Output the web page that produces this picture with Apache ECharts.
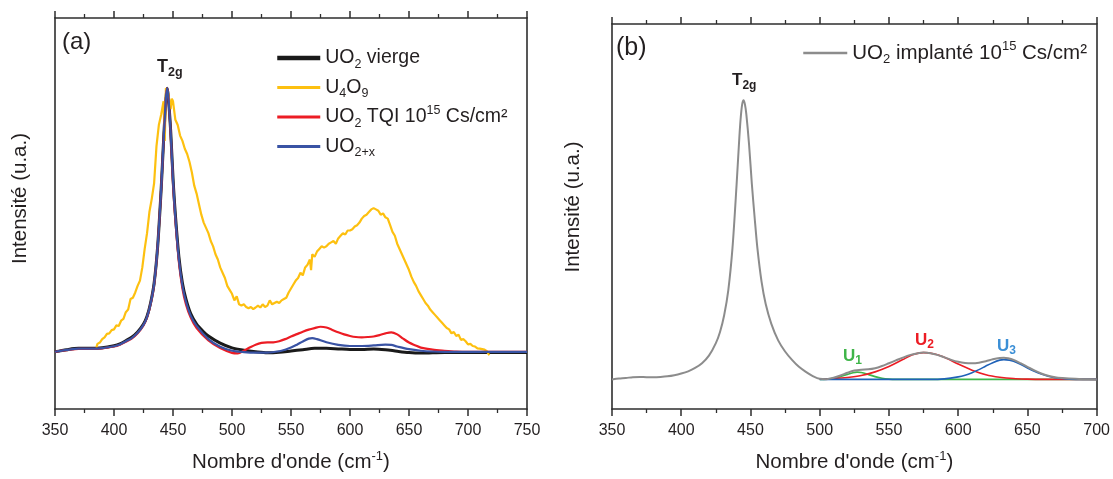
<!DOCTYPE html>
<html>
<head>
<meta charset="utf-8">
<script src="https://cdn.jsdelivr.net/npm/echarts@6/dist/echarts.min.js"></script>
<style>
html,body{margin:0;padding:0;background:#fff;}
#c{width:1113px;height:479px;}
</style>
</head>
<body>
<div id="c"></div>
<script>
// ---------------- DATA (panel a) ----------------
const blackX = [350,360,370,380,390,400,405,410,415,420,425,428,431,434,437,440,442,444,445,446,448,450,452,455,458,461,465,470,475,480,490,500,510,520,530,540,550,560,570,580,590,600,610,620,630,640,650,660,670,680,700,720,750];
const blackY = [0,0.008,0.013,0.013,0.015,0.023,0.03,0.042,0.055,0.075,0.105,0.135,0.185,0.26,0.4,0.62,0.8,0.96,1.0,0.97,0.84,0.66,0.52,0.36,0.26,0.2,0.145,0.105,0.08,0.06,0.033,0.015,0.006,0.0,-0.004,-0.002,0.003,0.008,0.013,0.013,0.011,0.009,0.009,0.011,0.008,0.002,-0.003,-0.005,-0.004,-0.003,-0.003,-0.003,-0.003];

const redX = [350,360,370,380,390,400,405,410,415,420,425,428,431,434,437,440,442,444,445,446,448,450,452,455,458,461,465,470,480,490,500,505,510,515,520,525,530,535,540,545,550,555,560,565,570,575,580,585,590,595,600,605,610,615,620,625,630,635,640,645,650,655,660,670,680,690,700,750];
const redY = [0,0.006,0.011,0.011,0.013,0.02,0.027,0.038,0.05,0.07,0.1,0.13,0.18,0.255,0.4,0.62,0.8,0.96,1.0,0.97,0.83,0.64,0.5,0.34,0.24,0.18,0.13,0.09,0.043,0.014,-0.004,-0.006,0.004,0.016,0.027,0.034,0.036,0.036,0.04,0.048,0.058,0.067,0.076,0.084,0.09,0.095,0.092,0.083,0.074,0.066,0.06,0.056,0.055,0.056,0.058,0.063,0.07,0.074,0.066,0.05,0.035,0.025,0.016,0.008,0.004,0.001,0,0];

const blueX = [350,360,370,380,390,400,405,410,415,420,425,428,431,434,437,440,442,444,445,446,448,450,452,455,458,461,465,470,480,490,500,510,520,530,540,545,550,555,560,565,568,572,580,590,600,610,620,630,635,640,650,660,670,680,750];
const blueY = [0,0.007,0.012,0.012,0.014,0.021,0.028,0.04,0.052,0.072,0.102,0.132,0.182,0.258,0.4,0.62,0.8,0.96,1.0,0.97,0.835,0.65,0.51,0.35,0.25,0.19,0.137,0.098,0.048,0.019,0.004,-0.001,-0.003,-0.003,0.002,0.008,0.016,0.027,0.039,0.05,0.052,0.048,0.036,0.026,0.022,0.022,0.024,0.027,0.026,0.02,0.01,0.004,0.001,0,0];

const yellowX = [385,386,388,390,392,394,396,398,400,402,404,406,408,410,412,414,416,418,420,422,424,426,428,430,432,434,436,438,440,442,443,444,446,448,449,450,452,454,456,458,460,462,464,466,468,470,472,474,476,478,480,482,484,486,488,490,492,494,496,498,500,502,504,506,508,510,512,514,516,518,520,522,524,526,528,530,532,534,536,538,540,542,544,546,548,550,552,554,556,558,560,562,564,566,567,568,570,572,574,576,578,580,582,584,586,588,590,592,594,596,598,600,602,604,606,608,610,612,614,616,618,620,622,624,626,628,630,632,634,636,638,640,642,644,646,648,650,652,654,656,658,660,662,664,666,668,670,672,674,676,678,680,682,684,686,688,690,692,694,696,698,700,702,704,706,708,710,712,714,716,718];
const yellowY = [0.016,0.03,0.035,0.048,0.055,0.068,0.07,0.082,0.085,0.1,0.098,0.118,0.125,0.15,0.16,0.2,0.205,0.225,0.25,0.27,0.32,0.39,0.45,0.53,0.58,0.64,0.78,0.86,0.9,0.95,0.8,1.0,0.98,0.92,0.96,0.95,0.88,0.86,0.82,0.8,0.77,0.75,0.72,0.68,0.63,0.6,0.56,0.52,0.49,0.47,0.45,0.42,0.4,0.37,0.35,0.32,0.3,0.28,0.25,0.235,0.22,0.195,0.21,0.18,0.175,0.18,0.17,0.165,0.17,0.162,0.168,0.175,0.168,0.18,0.17,0.175,0.195,0.18,0.185,0.19,0.185,0.195,0.2,0.205,0.225,0.24,0.255,0.27,0.28,0.3,0.29,0.32,0.33,0.35,0.31,0.37,0.36,0.38,0.39,0.4,0.395,0.4,0.41,0.415,0.42,0.41,0.43,0.44,0.45,0.445,0.46,0.46,0.465,0.475,0.48,0.49,0.505,0.515,0.52,0.53,0.54,0.545,0.54,0.535,0.52,0.525,0.51,0.505,0.48,0.455,0.44,0.41,0.39,0.37,0.35,0.33,0.31,0.285,0.265,0.25,0.23,0.215,0.2,0.185,0.175,0.16,0.15,0.14,0.13,0.12,0.11,0.1,0.09,0.085,0.07,0.075,0.06,0.065,0.045,0.048,0.04,0.028,0.03,0.022,0.02,0.013,0.012,0.01,0.008,0.002,-0.013];

// ---------------- DATA (panel b) ----------------
const grayX = [350,355,360,365,370,375,380,385,390,395,400,405,410,415,420,425,428,431,434,437,440,442,443,444,445,446,447,449,451,453,455,458,461,465,470,475,480,485,490,495,500,505,510,515,520,525,530,535,540,545,550,555,560,565,570,575,580,585,590,595,600,605,610,615,620,625,630,633,636,640,645,650,655,660,665,670,675,680,690,700];
const grayY = [0,0.003,0.005,0.008,0.009,0.008,0.008,0.009,0.011,0.015,0.021,0.029,0.041,0.058,0.085,0.13,0.17,0.23,0.32,0.47,0.7,0.87,0.94,0.985,1.0,0.985,0.95,0.84,0.7,0.58,0.47,0.35,0.27,0.2,0.14,0.1,0.07,0.045,0.027,0.012,0.002,0.001,0.006,0.014,0.024,0.032,0.035,0.036,0.04,0.048,0.058,0.068,0.078,0.087,0.093,0.096,0.094,0.088,0.079,0.07,0.063,0.059,0.058,0.06,0.065,0.072,0.077,0.078,0.076,0.07,0.058,0.045,0.032,0.021,0.013,0.008,0.005,0.003,0.001,0];

const u1X = [500,505,510,515,520,524,527,530,535,540,545,550,555,700];
const u1Y = [0,0.001,0.004,0.01,0.018,0.024,0.026,0.025,0.018,0.01,0.004,0.001,0,0];

const u2X = [500,510,520,530,540,550,560,567,575,583,590,600,610,620,630,640,650,660,700];
const u2Y = [0.001,0.003,0.007,0.014,0.027,0.046,0.071,0.088,0.096,0.091,0.079,0.055,0.033,0.017,0.008,0.003,0.001,0,0];

const u3X = [500,580,590,600,605,610,615,620,625,630,633,637,640,645,650,655,660,665,670,675,680,690,700];
const u3Y = [0,0,0.002,0.009,0.015,0.024,0.035,0.048,0.06,0.069,0.071,0.069,0.065,0.054,0.041,0.029,0.019,0.011,0.006,0.003,0.001,0,0];

// tick settings
const xTicksA = {min:350, max:750, interval:50};
const xTicksB = {min:350, max:700, interval:50};

// ---------------- building ----------------
const FONT = '"Liberation Sans", Arial, Helvetica, sans-serif';
const TXT = '#231f20';
const AX = '#2e2e2e';
const pairs = (xs, ys) => xs.map((x, i) => [x, ys[i]]);

const legendLabels = {
  'UO2 vierge': 'UO{sub|2} vierge',
  'U4O9': 'U{sub|4}O{sub|9}',
  'UO2 TQI': 'UO{sub|2} TQI 10{sup|15} Cs/cm²',
  'UO2+x': 'UO{sub|2+x}',
  'UO2 implanté': 'UO{sub|2} implanté 10{sup|15} Cs/cm²'
};
function legRich(fs) {
  return {
    sub: {fontSize: fs, lineHeight: 13, verticalAlign: 'bottom', fontFamily: FONT, color: TXT},
    sup: {fontSize: fs, lineHeight: 16, verticalAlign: 'top', fontFamily: FONT, color: TXT}
  };
}

function xAxis(g, ticks, pos, withName) {
  const a = {
    type: 'value', gridIndex: g, position: pos,
    min: ticks.min, max: ticks.max, interval: ticks.interval,
    axisLine: {show: true, onZero: false, lineStyle: {color: AX, width: 1.6}},
    axisTick: {show: true, inside: false, length: 7, lineStyle: {color: AX, width: 1.5}},
    minorTick: {show: true, splitNumber: 2, length: 4, lineStyle: {color: AX, width: 1.3}},
    axisLabel: {show: pos === 'bottom', fontSize: 16, color: TXT, fontFamily: FONT, margin: 14},
    splitLine: {show: false}, minorSplitLine: {show: false}
  };
  if (withName) {
    a.name = "Nombre d'onde (cm{sup|-1})";
    a.nameLocation = 'middle';
    a.nameGap = 41;
    a.nameTextStyle = {fontSize: 20.5, color: TXT, fontFamily: FONT, lineHeight: 24,
      rich: {sup: {fontSize: 13, lineHeight: 14, verticalAlign: 'top', fontFamily: FONT, color: TXT}}};
  }
  return a;
}
function yAxis(g, min, max, pos, name, gap, shift) {
  const a = {
    type: 'value', gridIndex: g, position: pos, min: min, max: max,
    axisLine: {show: true, onZero: false, lineStyle: {color: AX, width: 1.6}},
    axisTick: {show: false}, axisLabel: {show: false},
    splitLine: {show: false}
  };
  if (name) {
    a.name = name; a.nameLocation = 'middle'; a.nameGap = gap;
    a.nameTextStyle = {fontSize: 20.5, color: TXT, fontFamily: FONT, padding: [0, 0, 0, shift]};
  }
  return a;
}
function line(name, xi, yi, xs, ys, color, width, smooth, z) {
  return {
    name: name, type: 'line', xAxisIndex: xi, yAxisIndex: yi,
    data: pairs(xs, ys), showSymbol: false, symbol: 'none',
    smooth: smooth, lineStyle: {color: color, width: width}, itemStyle: {color: color},
    z: z, animation: false, silent: true
  };
}

const chart = echarts.init(document.getElementById('c'), null, {renderer: 'canvas'});
chart.setOption({
  animation: false,
  backgroundColor: '#ffffff',
  grid: [
    {left: 55, top: 18, width: 472, height: 392},
    {left: 612, top: 24, width: 487, height: 393}
  ],
  xAxis: [
    xAxis(0, xTicksA, 'bottom', true),
    xAxis(0, xTicksA, 'top', false),
    xAxis(1, xTicksB, 'bottom', true),
    xAxis(1, xTicksB, 'top', false)
  ],
  yAxis: [
    yAxis(0, -0.217, 1.266, 'left', 'Intensité (u.a.)', 24, 30),
    yAxis(0, -0.217, 1.266, 'right', null),
    yAxis(1, -0.106, 1.273, 'left', 'Intensité (u.a.)', 28, 19),
    yAxis(1, -0.106, 1.273, 'right', null)
  ],
  legend: [
    {
      orient: 'vertical', left: 270, top: 40, itemWidth: 43, itemHeight: 14, itemGap: 3.5,
      selectedMode: false,
      itemStyle: {opacity: 0},
      data: [
        {name: 'UO2 vierge', lineStyle: {width: 4.5}},
        {name: 'U4O9', lineStyle: {width: 3}},
        {name: 'UO2 TQI', lineStyle: {width: 3}},
        {name: 'UO2+x', lineStyle: {width: 3}}
      ],
      formatter: n => legendLabels[n],
      textStyle: {fontSize: 19.5, color: TXT, fontFamily: FONT, lineHeight: 26, rich: legRich(12.5)}
    },
    {
      orient: 'vertical', left: 797, top: 35, itemWidth: 44, itemHeight: 14,
      selectedMode: false,
      itemStyle: {opacity: 0},
      data: [{name: 'UO2 implanté', lineStyle: {width: 2.5}}],
      formatter: n => legendLabels[n],
      textStyle: {fontSize: 20.5, color: TXT, fontFamily: FONT, lineHeight: 26, rich: legRich(13)}
    }
  ],
  series: [
    line('UO2 vierge', 0, 0, blackX, blackY, '#1a1a1a', 3, 0.3, 2),
    line('U4O9', 0, 0, yellowX, yellowY, '#fdc010', 2.2, false, 3),
    line('UO2 TQI', 0, 0, redX, redY, '#ec1c24', 2.2, 0.3, 4),
    line('UO2+x', 0, 0, blueX, blueY, '#3953a4', 2.2, 0.3, 5),
    line('U1', 2, 2, u1X, u1Y, '#3fb549', 1.6, 0.3, 2),
    line('U2', 2, 2, u2X, u2Y, '#ec1c24', 1.6, 0.3, 2),
    line('U3', 2, 2, u3X, u3Y, '#1f62b8', 1.6, 0.3, 3),
    line('UO2 implanté', 2, 2, grayX, grayY, '#8c8c8c', 2, 0.3, 5)
  ],
  graphic: [
    {type: 'text', x: 62, y: 42, style: {text: '(a)', fontSize: 24, fontFamily: FONT, fill: TXT, align: 'left', verticalAlign: 'middle'}},
    {type: 'text', x: 616, y: 48, style: {text: '(b)', fontSize: 25, fontFamily: FONT, fill: TXT, align: 'left', verticalAlign: 'middle'}},
    {type: 'text', x: 157, y: 67, style: {text: 'T{s|2g}', fontSize: 18, fontWeight: 'bold', fontFamily: FONT, fill: TXT, lineHeight: 24, align: 'left', verticalAlign: 'middle',
      rich: {s: {fontSize: 12.5, fontWeight: 'bold', fontFamily: FONT, fill: TXT, lineHeight: 12, verticalAlign: 'bottom'}}}},
    {type: 'text', x: 732, y: 80, style: {text: 'T{s|2g}', fontSize: 17, fontWeight: 'bold', fontFamily: FONT, fill: TXT, lineHeight: 24, align: 'left', verticalAlign: 'middle',
      rich: {s: {fontSize: 12, fontWeight: 'bold', fontFamily: FONT, fill: TXT, lineHeight: 12, verticalAlign: 'bottom'}}}},
    {type: 'text', x: 843, y: 356, style: {text: 'U{s|1}', fontSize: 17, fontWeight: 'bold', fontFamily: FONT, fill: '#3fb549', lineHeight: 22, align: 'left', verticalAlign: 'middle',
      rich: {s: {fontSize: 12, fontWeight: 'bold', fontFamily: FONT, fill: '#3fb549', lineHeight: 12, verticalAlign: 'bottom'}}}},
    {type: 'text', x: 915, y: 340, style: {text: 'U{s|2}', fontSize: 17, fontWeight: 'bold', fontFamily: FONT, fill: '#ec1c24', lineHeight: 22, align: 'left', verticalAlign: 'middle',
      rich: {s: {fontSize: 12, fontWeight: 'bold', fontFamily: FONT, fill: '#ec1c24', lineHeight: 12, verticalAlign: 'bottom'}}}},
    {type: 'text', x: 997, y: 346, style: {text: 'U{s|3}', fontSize: 17, fontWeight: 'bold', fontFamily: FONT, fill: '#3b8fd6', lineHeight: 22, align: 'left', verticalAlign: 'middle',
      rich: {s: {fontSize: 12, fontWeight: 'bold', fontFamily: FONT, fill: '#3b8fd6', lineHeight: 12, verticalAlign: 'bottom'}}}}
  ]
});
</script>
</body>
</html>
